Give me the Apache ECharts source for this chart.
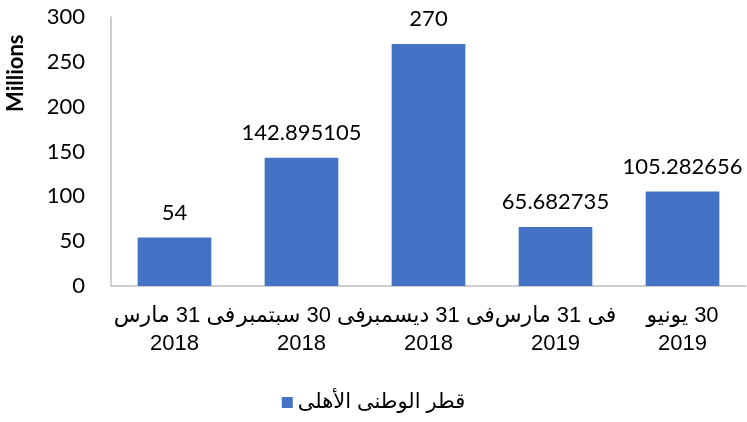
<!DOCTYPE html>
<html>
<head>
<meta charset="utf-8">
<script src="https://cdn.jsdelivr.net/npm/echarts@6/dist/echarts.min.js"></script>
<style>
  html, body { margin: 0; padding: 0; background: #fff; }
  #chart { width: 747px; height: 422px; }
</style>
</head>
<body>
<div id="chart"></div>
<script>
// categories: two lines each (date / year)
const categories = [
  'فى 31 مارس\n2018',
  'فى 30 سبتمبر\n2018',
  'فى 31 ديسمبر\n2018',
  'فى 31 مارس\n2019',
  '30 يونيو\n2019'
];
const seriesName = 'قطر الوطنى الأهلى';
const values = [54, 142.895105, 270, 65.682735, 105.282656];
const yTicks = [0, 50, 100, 150, 200, 250, 300];

const chart = echarts.init(document.getElementById('chart'));

const option = {
  animation: false,
  grid: { left: 111, right: 1, top: 17, bottom: 136 },
  legend: {
    bottom: 4,
    left: 'center',
    icon: 'rect',
    itemWidth: 11,
    itemHeight: 11,
    itemGap: 6,
    textStyle: { fontFamily: 'Liberation Sans, DejaVu Sans', fontSize: 21, color: '#000' },
    data: [seriesName]
  },
  graphic: [{
    type: 'text',
    x: 5,
    y: 112,
    rotation: Math.PI / 2,
    style: {
      text: 'Millions',
      font: 'bold 22px Lato',
      fill: '#000'
    }
  }],
  xAxis: {
    type: 'category',
    data: categories,
    axisLine: { lineStyle: { color: '#bfbfbf', width: 1.5 } },
    axisTick: { show: false },
    axisLabel: {
      interval: 0,
      margin: 16,
      color: '#000',
      fontFamily: 'Liberation Sans, DejaVu Sans',
      fontSize: 22,
      lineHeight: 28,
      // RLM so the Arabic date lines keep right-to-left order
      formatter: (v) => v.split('\n').map(s => '\u200F' + s).join('\n')
    }
  },
  yAxis: {
    type: 'value',
    min: yTicks[0],
    max: yTicks[yTicks.length - 1],
    interval: 50,
    axisLine: { show: true, lineStyle: { color: '#bfbfbf', width: 1.5 } },
    axisTick: { show: false },
    splitLine: { show: false },
    axisLabel: {
      margin: 26,
      color: '#000',
      fontFamily: 'Lato',
      fontSize: 22
    }
  },
  series: [{
    name: seriesName,
    type: 'bar',
    data: values,
    barCategoryGap: '42%',
    itemStyle: { color: '#4472c4' },
    label: {
      show: true,
      position: 'top',
      distance: 14,
      color: '#000',
      fontFamily: 'Lato',
      fontSize: 22
    }
  }]
};

chart.setOption(option);
</script>
</body>
</html>
